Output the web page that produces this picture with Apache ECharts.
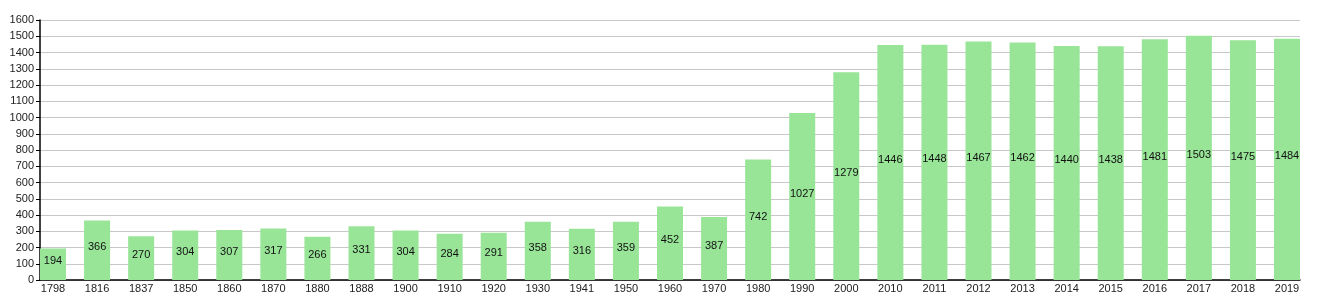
<!DOCTYPE html>
<html>
<head>
<meta charset="utf-8">
<script src="https://cdn.jsdelivr.net/npm/echarts@6/dist/echarts.min.js"></script>
<style>
html,body{margin:0;padding:0;background:#fff;}
#c{width:1335px;height:300px;}
</style>
</head>
<body>
<div id="c"></div>
<script>
const years = ['1798','1816','1837','1850','1860','1870','1880','1888','1900','1910','1920','1930','1941','1950','1960','1970','1980','1990','2000','2010','2011','2012','2013','2014','2015','2016','2017','2018','2019'];
const population = [194,366,270,304,307,317,266,331,304,284,291,358,316,359,452,387,742,1027,1279,1446,1448,1467,1462,1440,1438,1481,1503,1475,1484];
const yMin = 0, yMax = 1600, yStep = 100;

const font = 'Liberation Sans, Arial, sans-serif';
const chart = echarts.init(document.getElementById('c'));
chart.setOption({
  animation: false,
  backgroundColor: '#ffffff',
  grid: [
    {left: 40, right: 35, top: 20, bottom: 20},
    {left: 53, right: 48, top: 20, bottom: 20}
  ],
  xAxis: [
    {gridIndex: 0, type: 'category', data: years, boundaryGap: true,
     axisLine: {show: true, lineStyle: {color: '#000', width: 1.5}},
     axisTick: {show: false}, axisLabel: {show: false}, splitLine: {show: false}},
    {gridIndex: 1, type: 'category', data: years, boundaryGap: false,
     axisLine: {show: false}, axisTick: {show: false},
     axisLabel: {show: true, interval: 0, margin: 3, color: '#222', fontSize: 11, fontFamily: font},
     splitLine: {show: false}}
  ],
  yAxis: [
    {gridIndex: 0, type: 'value', min: yMin, max: yMax, interval: yStep,
     axisLine: {show: true, lineStyle: {color: '#000', width: 1.5}},
     axisTick: {show: true, length: 4, lineStyle: {color: '#000'}},
     axisLabel: {margin: 6, color: '#222', fontSize: 11, fontFamily: font, formatter: function (v) { return String(v); }},
     splitLine: {show: true, lineStyle: {color: '#c8c8c8', width: 1}}},
    {gridIndex: 1, type: 'value', min: yMin, max: yMax, interval: yStep, show: false,
     splitLine: {show: false}}
  ],
  series: [{
    type: 'bar',
    xAxisIndex: 1, yAxisIndex: 1,
    data: population,
    barWidth: 26,
    clip: false,
    itemStyle: {color: '#98e598'},
    label: {show: true, position: 'inside', offset: [0, -3], color: '#111', fontSize: 11, fontFamily: font}
  }]
});
</script>
</body>
</html>
